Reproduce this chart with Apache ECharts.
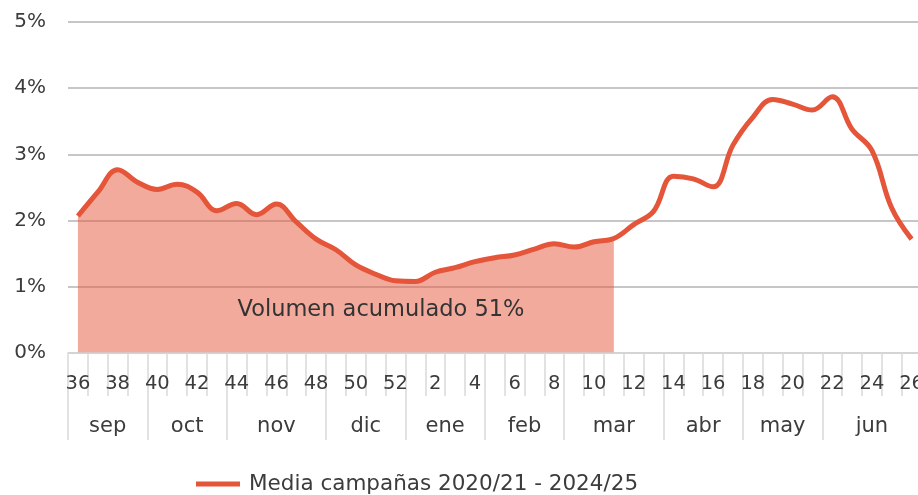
<!DOCTYPE html>
<html>
<head>
<meta charset="utf-8">
<script src="https://cdn.jsdelivr.net/npm/echarts@6/dist/echarts.min.js"></script>
<style>html,body{margin:0;padding:0;background:#fff}#c{width:918px;height:495px}</style>
</head>
<body>
<div id="c"></div>
<script>
const weeks = ['36','37','38','39','40','41','42','43','44','45','46','47','48','49','50','51','52',
  '1','2','3','4','5','6','7','8','9','10','11','12','13','14','15','16','17','18','19','20','21','22','23','24','25','26'];
const media = [2.07,2.43,2.77,2.58,2.47,2.55,2.43,2.15,2.26,2.09,2.25,1.98,1.72,1.56,1.33,1.19,1.09,
  1.08,1.22,1.29,1.38,1.44,1.48,1.57,1.65,1.60,1.68,1.73,1.94,2.14,2.67,2.63,2.51,3.14,3.56,3.83,3.76,3.67,3.87,3.38,3.06,2.19,1.72];
const cumulativeEndIndex = 27; // week 11
const monthNames = ['sep','oct','nov','dic','ene','feb','mar','abr','may','jun'];
const monthBounds = [0,4,8,13,17,21,25,30,34,38,43];
const seriesName = 'Media campañas 2020/21 - 2024/25';
const annotation = 'Volumen acumulado 51%';

const monthCenters = monthNames.map((m,i)=>(monthBounds[i]+monthBounds[i+1])/2);
const areaData = media.map((v,i)=> i<=cumulativeEndIndex ? v : '-');

const FONT = 'DejaVu Sans';
const TXT = '#3c3c3c';
const chart = echarts.init(document.getElementById('c'), null, {renderer:'canvas'});
chart.setOption({
  animation:false,
  textStyle:{fontFamily:FONT},
  grid:{left:68, top:22, right:-3.5, bottom:142, containLabel:false, outerBoundsMode:'none'},
  legend:{
    data:[seriesName], left:191, top:468, itemWidth:44, itemHeight:14, icon:'path://M0,5 L44,5 L44,10 L0,10 Z',
    itemStyle:{color:'#E4553A'},
    textStyle:{fontFamily:FONT, fontSize:21.5, color:TXT, padding:[0,0,0,4]}
  },
  xAxis:[{
    type:'category', data:weeks, boundaryGap:true, z:3,
    axisLine:{show:true, lineStyle:{color:'#d9d9d9', width:1.5}},
    axisTick:{show:true, interval:0, length:43, lineStyle:{color:'#d9d9d9', width:1.5}},
    axisLabel:{interval:1, margin:21, fontSize:19.5, color:TXT, fontFamily:FONT}
  },{
    type:'value', min:0, max:43, position:'bottom', z:3,
    axisLine:{show:false},
    splitLine:{show:false},
    axisTick:{show:true, customValues:monthBounds, length:87, lineStyle:{color:'#d9d9d9', width:1.5}},
    axisLabel:{customValues:monthCenters, margin:63, fontSize:21, color:TXT, fontFamily:FONT,
      formatter:(v)=>{const i=monthCenters.indexOf(v); return i>=0?monthNames[i]:'';}}
  }],
  yAxis:{
    type:'value', min:0, max:5, interval:1,
    axisLine:{show:false}, axisTick:{show:false},
    axisLabel:{formatter:'{value}%', margin:22, fontSize:20, color:TXT, fontFamily:FONT},
    splitLine:{lineStyle:{color:'#b3b3b3', width:1.5}}
  },
  series:[{
    name:'acumulado', type:'line', data:areaData, smooth:0.4, symbol:'none', z:1,
    lineStyle:{width:0}, areaStyle:{color:'rgba(228,85,58,0.5)', opacity:1}
  },{
    name:seriesName, type:'line', data:media, smooth:0.4, symbol:'none', z:2,
    lineStyle:{width:5, color:'#E4553A'}, itemStyle:{color:'#E4553A'}
  }],
  graphic:[{
    type:'text', x:381, y:310, z:20,
    style:{text:annotation, fontFamily:FONT, fontSize:22.5, fill:'#333', align:'center', verticalAlign:'middle'}
  }]
});
</script>
</body>
</html>
